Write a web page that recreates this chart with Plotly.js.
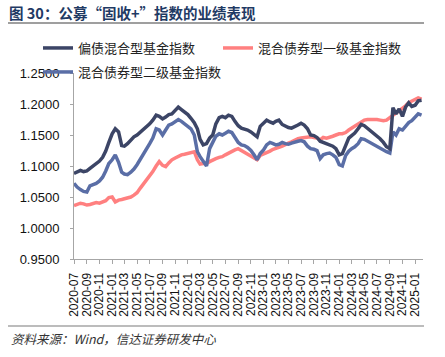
<!DOCTYPE html>
<html>
<head>
<meta charset="utf-8">
<script src="https://cdn.plot.ly/plotly-3.0.1.min.js"></script>
<style>
html,body{margin:0;padding:0;background:#fff;}
#chart{width:445px;height:357px;}
</style>
</head>
<body>
<div id="chart"></div>
<script>
const dates = [
'2020-07-01','2020-07-16','2020-08-01','2020-08-16','2020-09-01','2020-09-16','2020-10-01','2020-10-16','2020-11-01','2020-11-16','2020-12-01','2020-12-16',
'2021-01-01','2021-01-16','2021-02-01','2021-02-16','2021-03-01','2021-03-16','2021-04-01','2021-04-16','2021-05-01','2021-05-16','2021-06-01','2021-06-16',
'2021-07-01','2021-07-16','2021-08-01','2021-08-16','2021-09-01','2021-09-16','2021-10-01','2021-10-16','2021-11-01','2021-11-16','2021-12-01','2021-12-16',
'2022-01-01','2022-01-16','2022-02-01','2022-02-16','2022-03-01','2022-03-16','2022-04-01','2022-04-16','2022-05-01','2022-05-16','2022-06-01','2022-06-16',
'2022-07-01','2022-07-16','2022-08-01','2022-08-16','2022-09-01','2022-09-16','2022-10-01','2022-10-16','2022-11-01','2022-11-16','2022-12-01','2022-12-16',
'2023-01-01','2023-01-16','2023-02-01','2023-02-16','2023-03-01','2023-03-16','2023-04-01','2023-04-16','2023-05-01','2023-05-16','2023-06-01','2023-06-16',
'2023-07-01','2023-07-16','2023-08-01','2023-08-16','2023-09-01','2023-09-16','2023-10-01','2023-10-16','2023-11-01','2023-11-16','2023-12-01','2023-12-16',
'2024-01-01','2024-01-16','2024-02-01','2024-02-16','2024-03-01','2024-03-16','2024-04-01','2024-04-16','2024-05-01','2024-05-16','2024-06-01','2024-06-16',
'2024-07-01','2024-07-16','2024-08-01','2024-08-16','2024-09-01','2024-09-16','2024-10-01','2024-10-16','2024-11-01','2024-11-16','2024-12-01','2024-12-16',
'2025-01-01','2025-01-16','2025-02-01'
];

const seriesNames = ['偏债混合型基金指数', '混合债券型一级基金指数', '混合债券型二级基金指数'];

// 偏债混合型基金指数
const pianzhai = [
1.088,1.090,1.093,1.091,1.092,1.096,1.100,1.104,1.108,1.114,
1.124,1.138,1.152,1.160,1.155,1.133,1.132,1.136,1.142,1.147,
1.150,1.154,1.159,1.164,1.168,1.174,1.182,1.180,1.176,1.179,
1.183,1.184,1.190,1.195,1.191,1.187,1.183,1.177,1.170,1.160,
1.143,1.134,1.136,1.145,1.150,1.168,1.178,1.180,1.178,1.182,
1.180,1.172,1.165,1.161,1.160,1.158,1.155,1.150,1.147,1.164,
1.170,1.174,1.171,1.169,1.172,1.174,1.167,1.164,1.162,1.161,
1.163,1.166,1.169,1.166,1.160,1.150,1.149,1.146,1.140,1.138,
1.136,1.134,1.132,1.128,1.118,1.120,1.135,1.145,1.149,1.153,
1.160,1.167,1.165,1.161,1.156,1.152,1.148,1.144,1.138,1.131,
1.128,1.194,1.184,1.192,1.180,1.195,1.202,1.196,1.198,1.205,1.206
];

// 混合债券型一级基金指数
const yiji = [
1.036,1.038,1.040,1.039,1.037,1.038,1.040,1.041,1.040,1.042,
1.044,1.049,1.050,1.042,1.045,1.046,1.047,1.049,1.050,1.053,
1.057,1.064,1.071,1.078,1.085,1.091,1.100,1.107,1.101,1.099,
1.105,1.110,1.113,1.116,1.118,1.119,1.120,1.121,1.123,1.110,
1.103,1.104,1.104,1.107,1.110,1.112,1.114,1.115,1.118,1.121,
1.123,1.126,1.128,1.125,1.122,1.120,1.117,1.113,1.110,1.117,
1.119,1.122,1.124,1.127,1.128,1.130,1.132,1.135,1.137,1.139,
1.142,1.144,1.145,1.146,1.147,1.147,1.146,1.145,1.142,1.146,
1.145,1.146,1.148,1.150,1.152,1.152,1.154,1.158,1.161,1.164,
1.166,1.170,1.174,1.175,1.175,1.176,1.175,1.174,1.173,1.174,
1.178,1.181,1.184,1.188,1.193,1.197,1.202,1.205,1.208,1.210,1.208
];

// 混合债券型二级基金指数
const erji = [
1.072,1.066,1.062,1.059,1.058,1.068,1.070,1.072,1.076,1.082,
1.092,1.104,1.110,1.118,1.106,1.090,1.087,1.086,1.090,1.095,
1.102,1.110,1.118,1.126,1.136,1.145,1.160,1.158,1.150,1.158,
1.166,1.168,1.172,1.175,1.172,1.168,1.164,1.160,1.150,1.123,
1.115,1.108,1.100,1.128,1.138,1.148,1.152,1.150,1.153,1.156,
1.154,1.145,1.138,1.134,1.133,1.130,1.125,1.118,1.110,1.120,
1.126,1.134,1.138,1.136,1.134,1.135,1.138,1.136,1.135,1.137,
1.139,1.140,1.141,1.139,1.132,1.128,1.127,1.125,1.112,1.118,
1.120,1.121,1.118,1.114,1.102,1.100,1.117,1.124,1.128,1.131,
1.136,1.144,1.143,1.140,1.137,1.134,1.131,1.129,1.126,1.123,
1.121,1.155,1.150,1.160,1.158,1.165,1.170,1.173,1.178,1.184,1.182
];

const W = 445, H = 357;
const M = {l: 74, r: 22, t: 73, b: 98};
const pw = W - M.l - M.r, ph = H - M.t - M.b;
const px = x => (x - M.l) / pw;
const py = y => (H - M.b - y) / ph;

const cjk = '"Noto Sans CJK SC", "Noto Sans", sans-serif';
const latin = '"Liberation Sans", Arial, sans-serif';

const traces = [
  {x: dates, y: pianzhai, name: seriesNames[0], type: 'scatter', mode: 'lines',
   line: {color: '#3c4566', width: 3.5}, legend: 'legend'},
  {x: dates, y: yiji, name: seriesNames[1], type: 'scatter', mode: 'lines',
   line: {color: '#ff8080', width: 3.5}, legend: 'legend2'},
  {x: dates, y: erji, name: seriesNames[2], type: 'scatter', mode: 'lines',
   line: {color: '#5a6ea6', width: 3.5}, legend: 'legend3'}
];

const legFont = {family: cjk, size: 13, color: '#222'};
const mkLegend = (x, y) => ({
  orientation: 'h', x: px(x), xanchor: 'left', y: py(y), yanchor: 'middle',
  font: legFont, bgcolor: 'rgba(0,0,0,0)', borderwidth: 0
});

const layout = {
  width: W, height: H,
  margin: M,
  paper_bgcolor: '#fff', plot_bgcolor: '#fff',
  showlegend: true,
  title: {
    text: '<b>图 30：公募“固收+”指数的业绩表现</b>',
    font: {family: cjk, size: 14.5, color: '#1f3a64'},
    xref: 'container', yref: 'container',
    x: 9 / W, xanchor: 'left', y: 1 - 14 / H, yanchor: 'middle'
  },
  xaxis: {
    type: 'date',
    range: ['2020-07-01', '2025-02-08'],
    tick0: '2020-07-01', dtick: 'M2', tickformat: '%Y-%m',
    tickangle: -90,
    tickfont: {family: latin, size: 12, color: '#111'},
    ticks: 'outside', ticklen: 4, tickcolor: '#a6a6a6',
    ticklabelstandoff: 4,
    showline: true, linecolor: '#a6a6a6', linewidth: 1,
    showgrid: false, zeroline: false
  },
  yaxis: {
    range: [0.95, 1.25], dtick: 0.05, tick0: 0.95, tickformat: '.4f',
    tickfont: {family: latin, size: 13, color: '#111'},
    ticks: 'outside', ticklen: 3, tickcolor: '#a6a6a6',
    ticklabelstandoff: 8,
    showline: true, linecolor: '#a6a6a6', linewidth: 1,
    showgrid: false, zeroline: false
  },
  legend: mkLegend(38, 48),
  legend2: mkLegend(218, 48),
  legend3: mkLegend(38, 72),
  shapes: [
    {type: 'line', xref: 'paper', yref: 'paper', x0: px(8), x1: px(424), y0: py(23), y1: py(23),
     line: {color: '#7f7f7f', width: 1.5}},
    {type: 'line', xref: 'paper', yref: 'paper', x0: px(8), x1: px(424), y0: py(326), y1: py(326),
     line: {color: '#a6a6a6', width: 1.5}}
  ],
  annotations: [
    {text: '<i>资料来源：Wind，信达证券研发中心</i>', xref: 'paper', yref: 'paper',
     x: px(9), y: py(338), xanchor: 'left', yanchor: 'middle', showarrow: false,
     font: {family: cjk, size: 12.5, color: '#333'}}
  ]
};

Plotly.newPlot('chart', [traces[1], traces[2], traces[0]], layout, {displayModeBar: false, staticPlot: true});
</script>
</body>
</html>
